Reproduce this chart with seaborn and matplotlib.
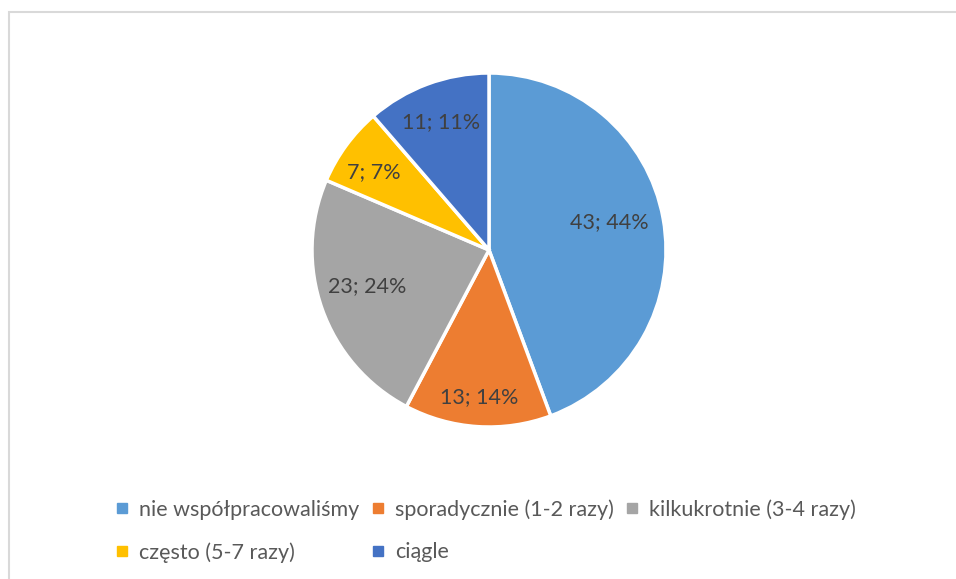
import numpy as np
import matplotlib
matplotlib.use("Agg")
import matplotlib.pyplot as plt
from matplotlib.lines import Line2D
from matplotlib.patches import Rectangle
import seaborn as sns

categories = ["nie współpracowaliśmy", "sporadycznie (1-2 razy)", "kilkukrotnie (3-4 razy)",
              "często (5-7 razy)", "ciągle"]
values = [43, 13, 23, 7, 11]
percent_labels = ["44%", "14%", "24%", "7%", "11%"]

sns.set_theme(style="white")
plt.rcParams['font.family'] = ['Lato', 'DejaVu Sans']

colors = ["#5B9BD5", "#ED7D31", "#A5A5A5", "#FFC000", "#4472C4"]

W, H = 956, 579
fig = plt.figure(figsize=(W / 100, H / 100), dpi=100)
fig.patch.set_facecolor("white")

# outer frame (left & top visible)
fig.add_artist(Rectangle((8.5 / W, -0.1), 1.2, 1.1 - 12.5 / H, transform=fig.transFigure,
                         fill=False, edgecolor="#D9D9D9", linewidth=1.5))

cx, cy, R = 489, 250, 177
ax = fig.add_axes([(cx - R) / W, (H - cy - R) / H, 2 * R / W, 2 * R / H])
wedges, _ = ax.pie(values, colors=colors, startangle=90, counterclock=False,
                   radius=1, wedgeprops=dict(edgecolor="white", linewidth=2.5))
ax.set_xlim(-1, 1)
ax.set_ylim(-1, 1)
ax.set_aspect("auto")
ax.axis("off")

# label placement (radial distance, angular nudge in degrees)
dists = [0.70, 0.83, 0.72, 0.785, 0.77]
nudges = [3.0, 0.0, -3.0, 2.0, 0.0]
for w, v, p, d, n in zip(wedges, values, percent_labels, dists, nudges):
    ang = np.deg2rad((w.theta1 + w.theta2) / 2 + n)
    ax.text(d * np.cos(ang), d * np.sin(ang), f"{v}; {p}", ha="center", va="center",
            fontsize=15.5, color="#404040")

handles = [Line2D([], [], marker="s", linestyle="none", markersize=7, color=c) for c in colors]
order = [0, 3, 1, 4, 2]  # so that the legend fills row by row
leg = fig.legend([handles[i] for i in order], [categories[i] for i in order], ncol=3,
                 loc="center left", bbox_to_anchor=(107 / W, 1 - 531 / H), frameon=False,
                 fontsize=15.5, labelcolor="#595959", handlelength=0.6, handletextpad=0.5,
                 columnspacing=0.55, labelspacing=1.05, borderaxespad=0)

fig.savefig("out.png", dpi=100, facecolor="white")
